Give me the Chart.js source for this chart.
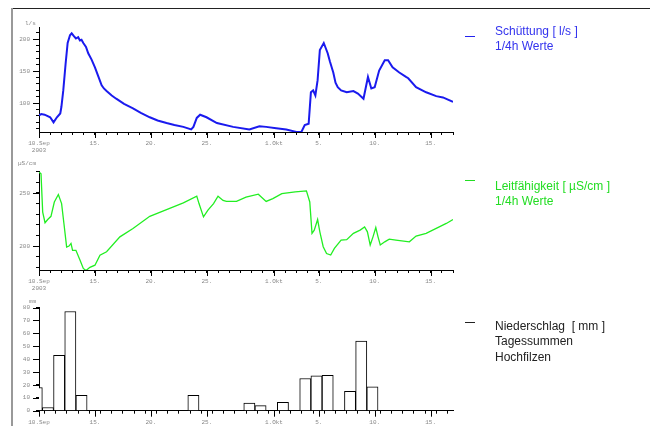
<!DOCTYPE html>
<html>
<head>
<meta charset="utf-8">
<script src="https://cdn.jsdelivr.net/npm/chart.js@4.4.0/dist/chart.umd.min.js"></script>
<style>
  body { margin: 0; background: #fff; }
  #wrap { position: relative; width: 650px; height: 426px; overflow: hidden; }
  canvas { position: absolute; left: 0; }
  .rahmen-oben { position: absolute; left: 11px; top: 8px; width: 639px; height: 0; border-top: 1px solid #222; }
  .rahmen-links { position: absolute; left: 11px; top: 8px; width: 0; height: 418px; border-left: 2px solid #999; }
  .einheit { position: absolute; font: 6px "Liberation Mono", monospace; color: #888; }
  .strich { position: absolute; left: 465px; width: 10px; height: 0; }
  .legende { position: absolute; left: 495px; font: 12px "Liberation Sans", Arial, sans-serif; white-space: nowrap; }
</style>
</head>
<body>
<div id="wrap">
  <div class="rahmen-oben"></div>
  <div class="rahmen-links"></div>

  <canvas id="schuettung" width="470" height="160" style="top:0px"></canvas>
  <canvas id="leitfaehigkeit" width="470" height="138" style="top:160px"></canvas>
  <canvas id="niederschlag" width="470" height="128" style="top:298px"></canvas>

  <div class="einheit" style="left:25px; top:20px">l/s</div>
  <div class="einheit" style="left:18px; top:160px">µS/cm</div>
  <div class="einheit" style="left:29px; top:298px">mm</div>

  <div class="strich" style="top:36px; border-top:1px solid #2222ee"></div>
  <div class="legende" style="top:24px; line-height:14.5px; color:#3333ee">Schüttung [ l/s ]<br>1/4h Werte</div>

  <div class="strich" style="top:180px; border-top:1px solid #22dd22"></div>
  <div class="legende" style="top:179px; line-height:15px; color:#22dd22">Leitfähigkeit [ µS/cm ]<br>1/4h Werte</div>

  <div class="strich" style="top:322px; border-top:1px solid #222"></div>
  <div class="legende" style="top:319px; line-height:15.3px; color:#222">Niederschlag&nbsp; [ mm ]<br>Tagessummen<br>Hochfilzen</div>
</div>

<script>
// x in Tagen ab 10. Sep 2003
const tickTage = [0, 5, 10, 15, 21, 25, 30, 35];
const tickTexte = [["10.Sep", "2003"], "15.", "20.", "25.", "1.Okt", "5.", "10.", "15."];

// Schuettung l/s
const schuettungTage = [0, 0.2, 0.5, 1.0, 1.3, 1.6, 1.9, 2.0, 2.17, 2.38, 2.56, 2.77, 2.92, 3.1, 3.3, 3.5, 3.66, 3.8, 3.96, 4.2, 4.4, 4.7, 5.0, 5.3, 5.6, 5.8, 6.04, 6.5, 6.9, 7.6, 8.4, 9.1, 9.9, 10.6, 11.4, 12.1, 12.9, 13.6, 13.8, 14.1, 14.4, 14.97, 15.9, 17.35, 18.8, 19.7, 20.3, 21.2, 22.1, 23.0, 23.45, 23.75, 24.1, 24.3, 24.5, 24.7, 24.9, 25.1, 25.45, 25.8, 26.0, 26.3, 26.5, 26.7, 27.0, 27.5, 28.1, 28.5, 29.0, 29.4, 29.7, 30.0, 30.4, 30.9, 31.2, 31.6, 32.2, 32.8, 33.0, 33.7, 34.6, 35.5, 36.1, 36.5, 37];
const schuettungWerte = [81, 83, 82, 78, 70, 78, 84, 94, 120, 162, 194, 206, 209, 205, 201, 203, 198, 199, 194, 188, 178, 168, 156, 142, 128, 123, 119, 112, 107, 99, 92, 85, 78, 73, 69, 66, 63, 59, 63, 77, 82, 78, 69, 63, 59, 64, 63, 61, 59, 55, 55, 66, 68, 117, 120, 112, 136, 183, 194, 178, 165, 148, 132, 125, 120, 117, 119, 115, 107, 141, 123, 125, 151, 167, 167, 156, 148, 141, 139, 125, 117, 111, 109, 106, 102];

// Leitfaehigkeit uS/cm
const leitTage = [0, 0.18, 0.33, 0.54, 0.78, 1.07, 1.37, 1.73, 2.02, 2.23, 2.47, 2.68, 2.86, 3.0, 3.3, 3.66, 3.96, 4.2, 4.55, 5.0, 5.45, 6.04, 7.23, 8.4, 9.9, 11.4, 12.9, 14.1, 14.3, 14.7, 15.1, 15.6, 16.0, 16.45, 16.75, 17.65, 18.5, 19.6, 20.3, 20.9, 21.7, 22.9, 23.9, 24.2, 24.4, 24.6, 24.9, 25.1, 25.4, 25.7, 26.07, 26.4, 27.0, 27.5, 28.1, 28.7, 29.1, 29.35, 29.6, 29.85, 30.1, 30.3, 30.5, 30.9, 31.3, 31.9, 33.1, 33.7, 34.6, 35.5, 36.4, 37];
const leitWerte = [269.7, 268, 232, 222, 225, 228, 241.5, 248.5, 240, 221, 199, 200, 202.5, 196, 196, 187, 179, 177, 180, 182, 191.5, 194.7, 208.7, 216.6, 228, 234.4, 240.6, 247, 240, 227.5, 233.8, 240, 247, 243, 242, 242, 246, 248.8, 242, 244.7, 249.4, 251, 251.9, 241.5, 212, 215, 225, 213.4, 199.4, 193, 191.6, 197.8, 205.6, 206, 212, 215, 218, 213.4, 201, 208.7, 217.5, 208.7, 201, 204, 206.5, 205.6, 204, 209.4, 212, 216.6, 221.3, 225];

// Niederschlag mm, Tagessummen (Balkenmitte in Tagen)
const niederschlagTage = [-0.2, 0.8, 1.8, 2.8, 3.8, 4.8, 5.8, 6.8, 7.8, 8.8, 9.8, 10.8, 11.8, 12.8, 13.8, 14.8, 15.8, 16.8, 17.8, 18.8, 19.8, 20.8, 21.8, 22.8, 23.8, 24.8, 25.8, 26.8, 27.8, 28.8, 29.8, 30.8, 31.8, 32.8, 33.8, 34.8, 35.8, 36.8];
const niederschlagWerte = [18, 2.5, 43, 77, 12, 0, 0, 0, 0, 0, 0, 0, 0, 0, 12, 0, 0, 0, 0, 6, 4, 0, 6.5, 0, 25, 27, 27.5, 0, 15, 54, 18.5, 0, 0, 0, 0, 0, 0, 0];

const grau = "#888";
const tickFont = { family: "Liberation Mono", size: 6 };

function punkte(tage, werte) {
  return tage.map((t, i) => ({ x: t, y: werte[i] }));
}

// laengere Striche an den beschrifteten Ticks
const hauptTicks = {
  id: "hauptTicks",
  afterDraw(chart, args, opts) {
    const ctx = chart.ctx;
    const x = chart.scales.x, y = chart.scales.y;
    ctx.save();
    ctx.strokeStyle = "#000";
    ctx.lineWidth = 1;
    ctx.beginPath();
    tickTage.forEach((t) => {
      const px = Math.round(x.getPixelForValue(t)) + 0.5;
      ctx.moveTo(px, x.top);
      ctx.lineTo(px, x.top + 6);
    });
    y.ticks.forEach((t) => {
      if (opts.alle || t.value % 50 === 0) {
        const py = Math.round(y.getPixelForValue(t.value)) + 0.5;
        ctx.moveTo(y.right - 6, py);
        ctx.lineTo(y.right, py);
      }
    });
    ctx.stroke();
    ctx.restore();
  },
};

function xAchse(hoehe) {
  return {
    type: "linear",
    min: 0,
    max: 37,
    offset: false,
    border: { display: true, color: "#000", width: 1 },
    grid: { drawOnChartArea: false, drawTicks: true, tickLength: 3, tickColor: "#000" },
    ticks: {
      stepSize: 1,
      maxTicksLimit: 100,
      autoSkip: false,
      maxRotation: 0,
      padding: 5,
      color: grau,
      font: tickFont,
      callback: (v) => {
        const i = tickTage.indexOf(v);
        return i >= 0 ? tickTexte[i] : "";
      },
    },
    afterFit: (s) => { s.height = hoehe; },
  };
}

function yAchse(min, max, alle) {
  return {
    min: min,
    max: max,
    border: { display: true, color: "#000", width: 1 },
    grid: { drawOnChartArea: false, drawTicks: true, tickLength: 3, tickColor: "#000" },
    ticks: {
      stepSize: 10,
      maxTicksLimit: 100,
      includeBounds: false,
      autoSkip: false,
      padding: 6,
      color: grau,
      font: tickFont,
      callback: (v) => (alle || v % 50 === 0 ? v : ""),
    },
    afterFit: (s) => { s.width = 39; },
  };
}

function optionen(oben, xHoehe, yMin, yMax, alle) {
  return {
    responsive: false,
    animation: false,
    layout: { padding: { top: oben, right: 17, bottom: 0, left: 0 } },
    plugins: { legend: { display: false }, tooltip: { enabled: false }, hauptTicks: { alle: alle } },
    scales: { x: xAchse(xHoehe), y: yAchse(yMin, yMax, alle) },
  };
}

new Chart(document.getElementById("schuettung"), {
  type: "line",
  data: {
    datasets: [{
      data: punkte(schuettungTage, schuettungWerte),
      borderColor: "#1a1aee",
      borderWidth: 2,
      pointRadius: 0,
      tension: 0,
      fill: false,
    }],
  },
  options: optionen(27, 28, 55, 219, false),
  plugins: [hauptTicks],
});

new Chart(document.getElementById("leitfaehigkeit"), {
  type: "line",
  data: {
    datasets: [{
      data: punkte(leitTage, leitWerte),
      borderColor: "#22ee22",
      borderWidth: 1.3,
      pointRadius: 0,
      tension: 0,
      fill: false,
    }],
  },
  options: optionen(11.7, 28, 177.5, 270, false),
  plugins: [hauptTicks],
});

new Chart(document.getElementById("niederschlag"), {
  type: "bar",
  data: {
    datasets: [{
      data: punkte(niederschlagTage, niederschlagWerte),
      backgroundColor: "#fff",
      borderColor: "#000",
      borderWidth: 1,
      borderSkipped: "start",
      categoryPercentage: 1,
      barPercentage: 1,
      clip: 0,
    }],
  },
  options: optionen(8.7, 15.3, 0, 80, true),
  plugins: [hauptTicks],
});
</script>
</body>
</html>
